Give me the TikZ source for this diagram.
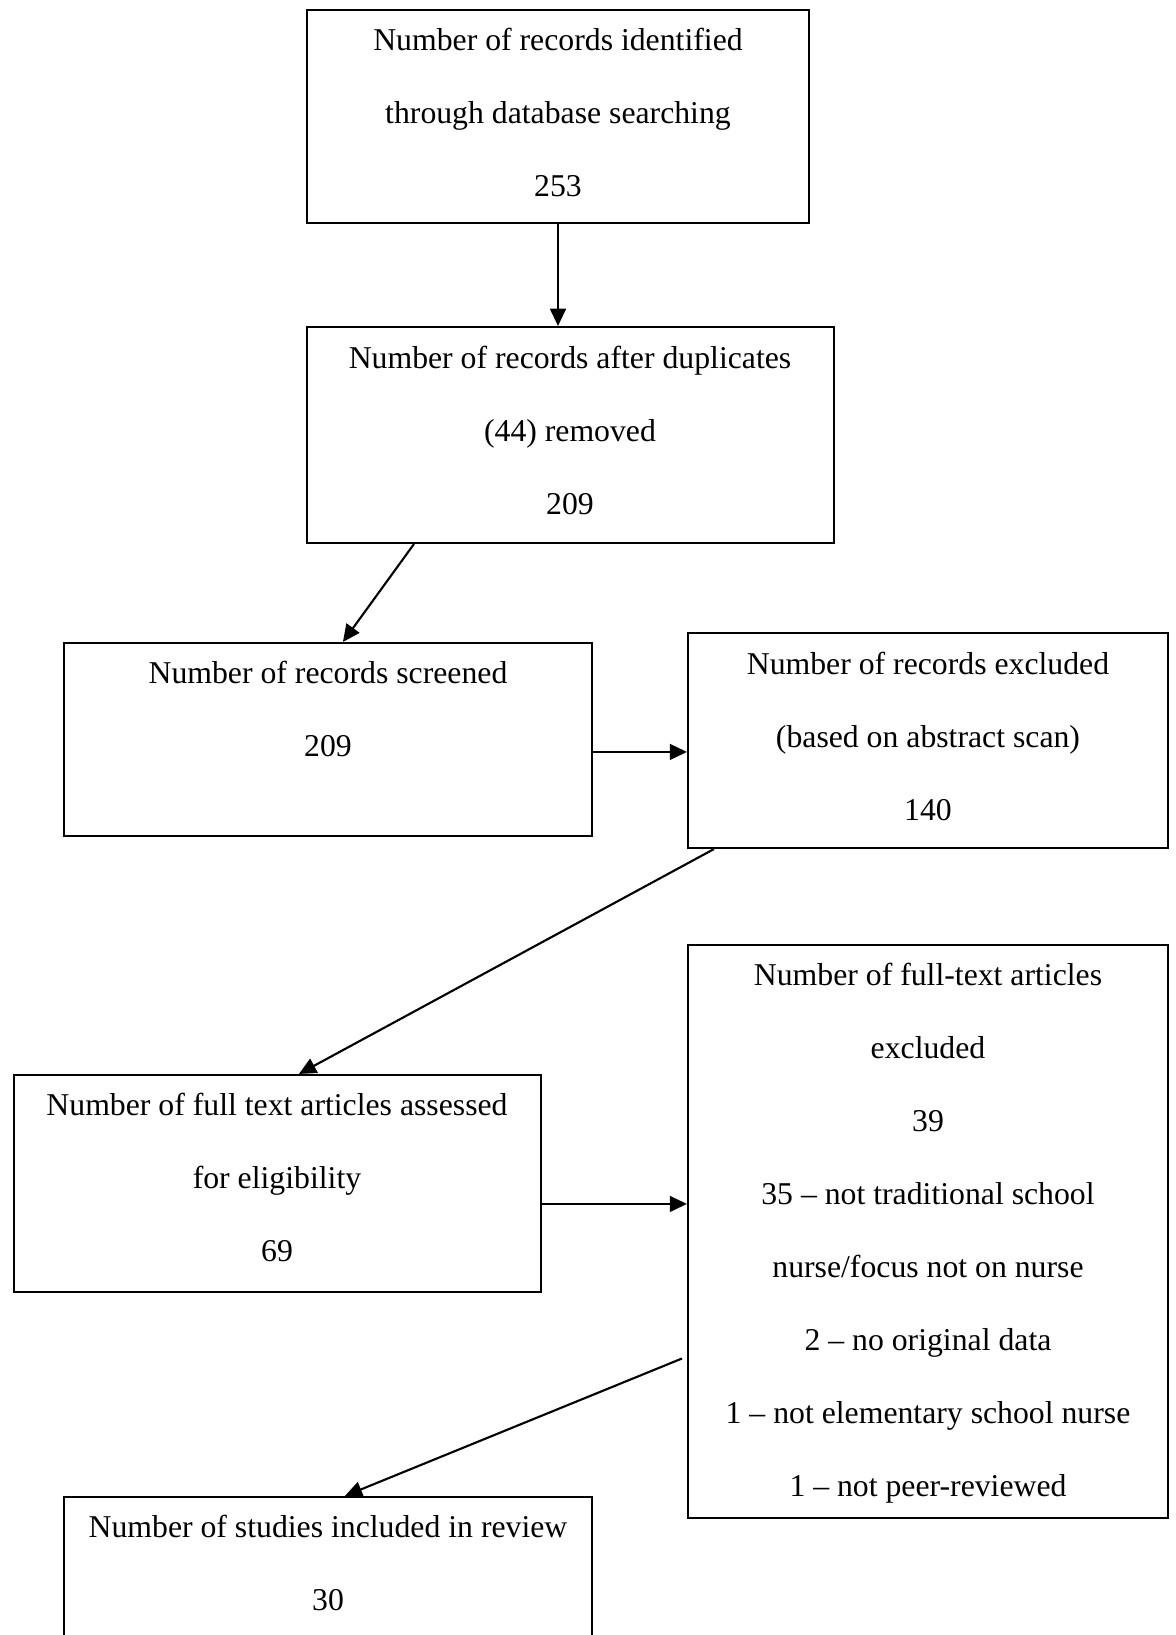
\documentclass[tikz,border=0pt]{standalone}
\usepackage{fontspec}
\setmainfont{Liberation Serif}
\usetikzlibrary{arrows.meta,calc,fit}

\begin{document}
\begin{tikzpicture}[x=0.378pt,y=-0.378pt,
  box/.style={draw,line width=0.8pt,inner sep=0pt},
  txt/.style={align=center,font=\fontsize{12}{27.6}\selectfont},
  arr/.style={-{Triangle[length=6.5pt,width=6pt]},line width=0.8pt}]
\useasboundingbox (0,0) rectangle (1175,1635);
\clip (0,0) rectangle (1175,1635);
% boxes
\node[box,fit={(307,10) (809,223)}] (ident) {};
\node[box,fit={(307,327) (834,543)}] (dedup) {};
\node[box,fit={(64,643) (592,836)}] (screen) {};
\node[box,fit={(688,633) (1168,848)}] (absexcl) {};
\node[box,fit={(14,1075) (541,1292)}] (assess) {};
\node[box,fit={(688,945) (1168,1518)}] (ftexcl) {};
\node[box,fit={(64,1497) (592,1700)}] (incl) {};
% texts
\node[txt] (ident-t) at (558,112) {Number of records identified\\through database searching\\253};
\node[txt] (dedup-t) at (570,430) {Number of records after duplicates\\(44) removed\\209};
\node[txt] (screen-t) at (328,709) {Number of records screened\\209};
\node[txt] (absexcl-t) at (928,736) {Number of records excluded\\(based on abstract scan)\\140};
\node[txt] (assess-t) at (277,1177) {Number of full text articles assessed\\for eligibility\\69};
\node[txt] (ftexcl-t) at (928,1233) {Number of full-text articles\\excluded\\39\\35 -- not traditional school\\nurse/focus not on nurse\\2 -- no original data\\1 -- not elementary school nurse\\1 -- not peer-reviewed};
\node[txt] (incl-t) at (328,1563) {Number of studies included in review\\30};
% arrows
\draw[arr] (ident.south) -- (ident.south |- dedup.north);
\draw[arr] ($(dedup.south west)+(108,0)$) -- ($(screen.north west)+(280,0)$);
\coordinate (a3) at ($(screen.north east)+(0,110)$);
\draw[arr] (a3) -- (a3 -| absexcl.west);
\draw[arr] ($(absexcl.south west)+(27,0)$) -- ($(assess.north west)+(286,0)$);
\coordinate (a5) at ($(assess.north east)+(0,130)$);
\draw[arr] (a5) -- (a5 -| ftexcl.west);
\coordinate (a6) at ($(ftexcl.west)+(-5,127)$);
\draw[arr] (a6) -- ($(incl.north west)+(282,0)$);
\end{tikzpicture}
\end{document}
